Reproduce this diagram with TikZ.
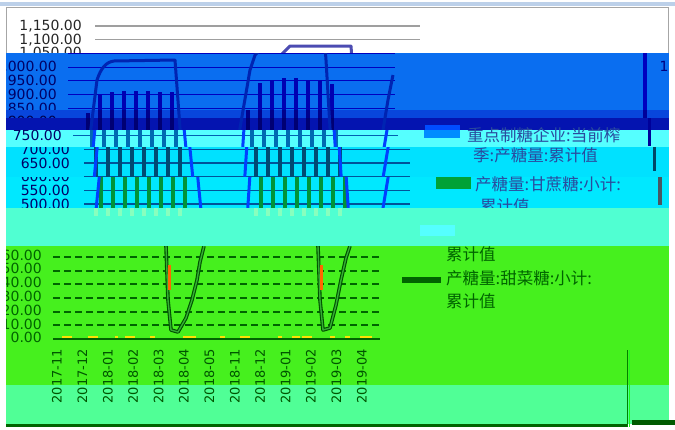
\documentclass[tikz,border=0pt]{standalone}
\usepackage{fontspec}
\setmainfont{DejaVu Sans}
\newfontfamily\cjk{Noto Sans CJK SC}
\definecolor{bBlue}{HTML}{0A6EF0}
\definecolor{bBlueB}{HTML}{0846DC}
\definecolor{bBlueC}{HTML}{0414B0}
\definecolor{bLC}{HTML}{55FFFF}
\definecolor{bC}{HTML}{00E1FF}
\definecolor{bCb}{HTML}{00E8FF}
\definecolor{bAq}{HTML}{50FFD2}
\definecolor{bGr}{HTML}{46F01E}
\definecolor{bMint}{HTML}{50FF96}
\definecolor{dkGreen}{HTML}{006400}
\definecolor{legTxt}{HTML}{2A4A9E}
\definecolor{topStrip}{HTML}{BCD0E9}
\tikzset{
  ulab/.style={font=\fontsize{14}{14}\selectfont, inner sep=0pt},
  leg/.style={font=\cjk\fontsize{16.5}{16.5}\selectfont, inner sep=0pt, anchor=base west},
  cat/.style={font=\fontsize{13}{13}\selectfont, inner sep=0pt, rotate=90, anchor=east, text=dkGreen!85!black},
}
\newcommand\ugrid[3]{\foreach \k in {0,...,13}{\draw[#3,line width=1.2pt] (#1,{204-\k*13.69}) -- (#2,{204-\k*13.69});}}
\newcommand\ubars[2]{\begin{scope}[xshift=#1]
  \foreach \x/\t in {114/113,126/95,138/92,150/91,162/91,174/91,186/92,198/92,274/110,286/83,298/80,310/78,322/78,334/80,346/80,358/84}{\fill[#2] (\x-2.2,\t) rectangle (\x+2.2,216);}
\end{scope}}
\newcommand\ucurves[2]{\begin{scope}[xshift=#1]
  \draw[#2,line width=3pt,line join=round] (108,220) -- (113,170) -- (117,128) -- (123,80) .. controls (127,68) and (132,62) .. (140,61) -- (201,60) -- (206,128) -- (212,190) -- (215,220);
  \draw[#2,line width=3pt,line join=round] (260,220) -- (266,128) -- (276,70) -- (281,55) -- (290,46) -- (351,46) -- (352,60) -- (356,128) -- (362,220);
  \draw[#2,line width=3pt,line join=round] (394,220) -- (409,130) -- (414,100) -- (419,75);
\end{scope}}
% #1 right x, #2 colour, #3 list of index/label pairs
\newcommand\ulabels[3]{\foreach \k/\l in {#3}{\node[ulab,text=#2,anchor=east] at (#1,{204-\k*13.69}) {\l};}}
\begin{document}
\begin{tikzpicture}[x=1pt,y=-1pt]
\useasboundingbox (0,0) rectangle (675,429);
\fill[white] (0,0) rectangle (675,429);
\fill[topStrip] (0,1.5) rectangle (675,6);
\draw[gray!70,line width=0.8pt] (6.4,60) -- (6.4,7.4) -- (668,7.4) -- (668,60);
% white band
\begin{scope}
  \clip (7,8) rectangle (667.5,53);
  \ugrid{95}{420}{gray!75}
  \ucurves{0}{blue!40!gray}
  \ulabels{82}{black!85}{11/{1,050.00},12/{1,100.00},13/{1,150.00}}
\end{scope}
% blue band
\begin{scope}
  \clip (6,53) rectangle (669,110);
  \fill[bBlue] (6,53) rectangle (669,110);
  \ugrid{68}{395}{blue!75!black}
  \ubars{-26}{blue!70!black}
  \ucurves{-26}{blue!80!cyan!70!black}
  \ulabels{57}{blue!40!black}{7/850.00,8/900.00,9/950.00,10/{1,000.00}}
  \fill[blue!75!black] (643,53) rectangle (647,118);
  \node[ulab,text=blue!50!black] (one) at (664,66) {1};
\end{scope}
\begin{scope}
  \clip (6,110) rectangle (669,118);
  \fill[bBlueB] (6,110) rectangle (669,118);
  \ugrid{68}{395}{blue!70!black}
  \ubars{-26}{blue!55!black}
  \ucurves{-26}{blue!80!cyan!70!black}
  \ulabels{57}{blue!30!black}{6/800.00}
  \fill[blue!60!black] (643,110) rectangle (647,118);
\end{scope}
\begin{scope}
  \clip (6,118) rectangle (669,130);
  \fill[bBlueC] (6,118) rectangle (669,130);
  \ubars{-26}{blue!45!black}
  \ucurves{-26}{blue!80!cyan!70!black}
  \fill[blue!60!black] (648,118) rectangle (651,130);
  \fill[blue!70!cyan] (425,125) rectangle (460,130);
\end{scope}
% light cyan band
\begin{scope}
  \clip (6,130) rectangle (669,147);
  \fill[bLC] (6,130) rectangle (669,147);
  \ugrid{73}{398}{blue!45!cyan!70!black}
  \ubars{-22}{blue!40!cyan!70!black}
  \ucurves{-22}{blue!75!cyan}
  \ulabels{62}{blue!40!black}{5/750.00}
  \fill[blue!60!black] (648,130) rectangle (651,146);
\end{scope}
% cyan band 1
\begin{scope}
  \clip (6,147) rectangle (669,177);
  \fill[bC] (6,147) rectangle (669,177);
  \ugrid{84}{410}{blue!45!cyan!60!black}
  \ubars{-18}{blue!35!cyan!45!black}
  \ucurves{-18}{blue!75!cyan}
  \ulabels{70}{blue!40!black}{3/650.00,4/700.00}
  \fill[blue!30!cyan!40!black] (653,147) rectangle (656,171);
\end{scope}
% cyan band 2
\begin{scope}
  \clip (6,177) rectangle (669,208);
  \fill[bCb] (6,177) rectangle (669,208);
  \ugrid{84}{410}{blue!45!cyan!60!black}
  \ubars{-13}{green!45!teal!80!black}
  \ucurves{-13}{blue!75!cyan}
  \ulabels{70}{blue!40!black}{0/500.00,1/550.00,2/600.00}
  \fill[cyan!30!black] (658,173) rectangle (662,205);
  \node[leg,text=legTxt] (lg4) at (480,212) {累计值};
\end{scope}
% legend (upper)
\fill[blue!45!cyan] (424,130) rectangle (460,138);
\fill[green!50!teal!85!black] (436,177) rectangle (471,189);
\node[leg,text=legTxt] (lg1) at (467,141) {重点制糖企业:当前榨};
\node[leg,text=legTxt] (lg2) at (473,161) {季:产糖量:累计值};
\node[leg,text=legTxt] (lg3) at (475,190) {产糖量:甘蔗糖:小计:};
% aquamarine band
\begin{scope}
  \clip (6,208) rectangle (669,246);
  \fill[bAq] (6,208) rectangle (669,246);
  \ubars{-18}{bAq!70!green!60!white}
  \fill[bLC] (420,225) rectangle (455,236);
\end{scope}
% green band (lower chart)
\begin{scope}
  \clip (6,246) rectangle (669,385);
  \fill[bGr] (6,246) rectangle (669,385);
  \foreach \yy in {257,271,284,298,312,325}{\draw[dkGreen,line width=2.2pt,dash pattern=on 7pt off 4pt] (53,\yy) -- (380,\yy);}
  \draw[dkGreen,line width=2.5pt] (53,339) -- (380,339);
  \foreach \xa/\xb in {62/72,88/98,115/118,125/135,150/155,183/196,220/225,240/250,278/282,292/300,302/312,330/335,345/350,360/372}{\fill[yellow!85!orange] (\xa,335.5) rectangle (\xb,338);}
  \foreach \k/\l in {0/60.00,1/50.00,2/40.00,3/30.00,4/20.00,5/10.00,6/0.00}{\node[ulab,text=dkGreen,anchor=east] (ll\k) at (42,{255+\k*13.8}) {\l};}
  \draw[dkGreen!80!black,line width=3.6pt,line join=round] (166,246) -- (168,300) -- (171,330) -- (178,332) -- (186,318) -- (192,300) -- (197,280) -- (200,262) -- (204,246);
  \draw[green!60!black!80!white,line width=1.4pt,line join=round] (166,246) -- (168,300) -- (171,330) -- (178,332) -- (186,318) -- (192,300) -- (197,280) -- (200,262) -- (204,246);
  \draw[dkGreen!80!black,line width=3.6pt,line join=round] (318,246) -- (320,300) -- (323,330) -- (330,328) -- (336,305) -- (341,280) -- (346,258) -- (350,246);
  \draw[green!60!black!80!white,line width=1.4pt,line join=round] (318,246) -- (320,300) -- (323,330) -- (330,328) -- (336,305) -- (341,280) -- (346,258) -- (350,246);
  \fill[orange!80!red] (168,265) rectangle (171,290);
  \fill[orange!80!red] (320,265) rectangle (323,290);
  \node[leg,text=dkGreen] (lg5) at (446,260) {累计值};
  \fill[dkGreen] (402,277) rectangle (441,283);
  \node[leg,text=dkGreen] (lg6) at (446,284) {产糖量:甜菜糖:小计:};
  \node[leg,text=dkGreen] (lg7) at (446,307) {累计值};
\end{scope}
% mint band
\fill[bMint] (6,385) rectangle (669,424);
\draw[dkGreen,line width=2.5pt] (6,425.5) -- (628,425.5);
\foreach \i/\d in {0/2017-11,1/2017-12,2/2018-01,3/2018-02,4/2018-03,5/2018-04,6/2018-05,7/2018-11,8/2018-12,9/2019-01,10/2019-02,11/2019-03,12/2019-04}{\node[cat] (c\i) at ({57+25.4*\i},349) {\d};}
\draw[green!50!black,line width=1.5pt] (627.5,350) -- (627.5,427);
\draw[green!90!white,line width=1pt] (629,350) -- (629,427);
\fill[dkGreen!90!black] (632,420) rectangle (675,425);
\end{tikzpicture}
\end{document}
